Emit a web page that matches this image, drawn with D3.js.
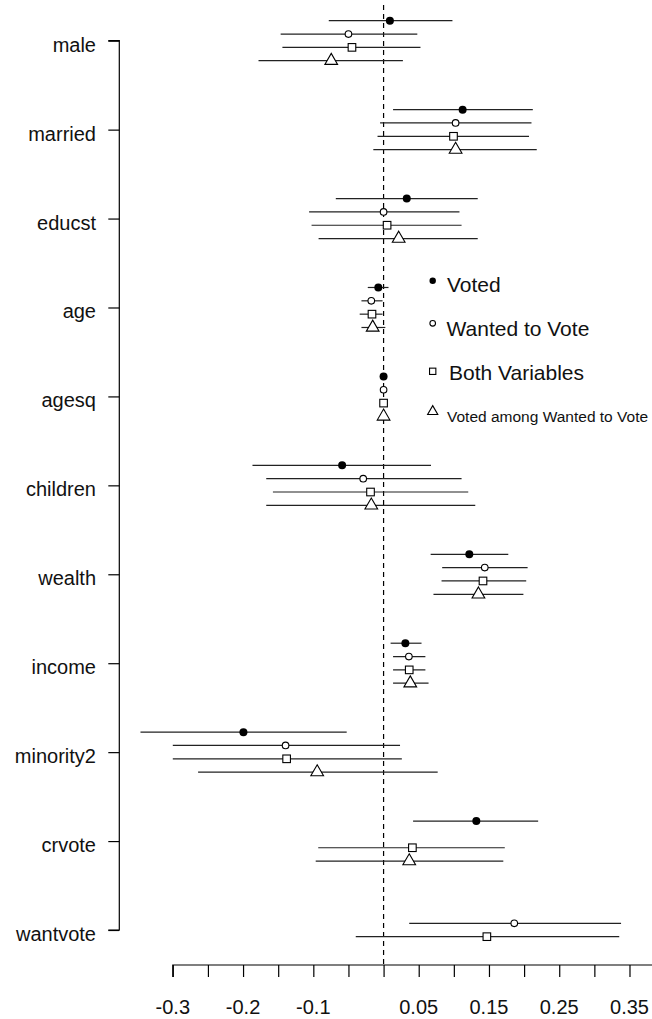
<!DOCTYPE html>
<html>
<head>
<meta charset="utf-8">
<script src="https://cdn.jsdelivr.net/npm/d3@7"></script>
<style>
  html, body { margin: 0; padding: 0; background: #fff; }
  svg { display: block; font-family: "Liberation Sans", Arial, sans-serif; }
</style>
</head>
<body>
<div id="chart"></div>
<script>
// ---- Data ----
const categories = ["male", "married", "educst", "age", "agesq", "children", "wealth", "income", "minority2", "crvote", "wantvote"];

const votedEst = [0.009, 0.1125, 0.033, -0.0075, 0.0, -0.059, 0.122, 0.031, -0.1995, 0.132, null];
const votedLo  = [-0.078, 0.0135, -0.068, -0.0225, -0.0005, -0.1866, 0.067, 0.010, -0.346, 0.042, null];
const votedHi  = [0.098, 0.2124, 0.134, 0.007, 0.0005, 0.0675, 0.1775, 0.054, -0.0525, 0.220, null];

const wantedEst = [-0.050, 0.1025, 0.0, -0.0175, 0.0, -0.029, 0.144, 0.036, -0.1395, null, 0.186];
const wantedLo  = [-0.1465, -0.005, -0.106, -0.0315, -0.0005, -0.167, 0.0834, 0.0135, -0.300, null, 0.0365];
const wantedHi  = [0.048, 0.2105, 0.108, -0.0015, 0.0005, 0.111, 0.205, 0.0595, 0.0234, null, 0.338];

const bothEst = [-0.045, 0.0995, 0.005, -0.0165, 0.0, -0.0186, 0.1415, 0.0365, -0.138, 0.041, 0.147];
const bothLo  = [-0.144, -0.0086, -0.1025, -0.034, -0.0005, -0.1575, 0.0825, 0.0135, -0.300, -0.093, -0.0396];
const bothHi  = [0.0525, 0.207, 0.111, -0.0015, 0.0005, 0.1205, 0.203, 0.0595, 0.026, 0.1725, 0.3354];

const amongEst = [-0.0745, 0.1025, 0.0215, -0.0155, 0.0, -0.0175, 0.135, 0.038, -0.0945, 0.0365, null];
const amongLo  = [-0.178, -0.0146, -0.0925, -0.0315, -0.0005, -0.167, 0.071, 0.0135, -0.264, -0.0966, null];
const amongHi  = [0.0275, 0.218, 0.134, 0.0025, 0.0005, 0.1305, 0.199, 0.064, 0.077, 0.1704, null];

const seriesNames = ["Voted", "Wanted to Vote", "Both Variables", "Voted among Wanted to Vote"];
const xTickValues = [-0.3, -0.25, -0.2, -0.15, -0.1, -0.05, 0, 0.05, 0.1, 0.15, 0.2, 0.25, 0.3, 0.35, 0.4];
const xTickLabels = ["-0.3", "", "-0.2", "", "-0.1", "", "", "0.05", "", "0.15", "", "0.25", "", "0.35", ""];

// ---- Layout ----
const W = 652, H = 1019;
const svg = d3.select("#chart").append("svg").attr("width", W).attr("height", H);

const x = d3.scaleLinear().domain([-0.3, 0.4]).range([172.8, 172.8 + 0.7 * 702.6]);
const y = d3.scalePoint().domain(categories).range([40.7, 930]);
const offsets = [-20, -6.67, 6.67, 20];

const series = [
  { name: seriesNames[0], est: votedEst, lo: votedLo, hi: votedHi, shape: "dot" },
  { name: seriesNames[1], est: wantedEst, lo: wantedLo, hi: wantedHi, shape: "circle" },
  { name: seriesNames[2], est: bothEst, lo: bothLo, hi: bothHi, shape: "square" },
  { name: seriesNames[3], est: amongEst, lo: amongLo, hi: amongHi, shape: "triangle" }
];

// dashed zero line
svg.append("line")
  .attr("x1", x(0)).attr("x2", x(0))
  .attr("y1", 5).attr("y2", 965)
  .attr("stroke", "#000").attr("stroke-width", 1.2)
  .attr("stroke-dasharray", "5,4");

// Y axis
const yAxis = d3.axisLeft(y).tickSize(11).tickPadding(0).tickFormat("");
const gy = svg.append("g").attr("transform", "translate(119.3,0)").call(yAxis);
gy.select(".domain").attr("d", `M-11,${y(categories[0])}H0V${y(categories[categories.length-1])}H-11`).attr("stroke", "#000").attr("stroke-width", 1.2);
gy.selectAll(".tick line").attr("stroke", "#000").attr("stroke-width", 1.2);

svg.append("g").selectAll("text").data(categories).join("text")
  .attr("x", 96).attr("y", d => y(d) + 11)
  .attr("text-anchor", "end")
  .attr("font-size", 20)
  .attr("fill", "#111")
  .text(d => d);

// X axis
const xAxis = d3.axisBottom(x).tickValues(xTickValues).tickSize(12).tickPadding(0).tickFormat("");
const gx = svg.append("g").attr("transform", "translate(0,965)").call(xAxis);
gx.select(".domain").attr("d", `M${x(-0.3)},12V0H${x(0.4)}`).attr("stroke", "#000").attr("stroke-width", 1.2);
gx.selectAll(".tick line").attr("stroke", "#000").attr("stroke-width", 1.2);

svg.append("g").selectAll("text").data(xTickValues.map((v, i) => ({ v, l: xTickLabels[i] })).filter(d => d.l !== ""))
  .join("text")
  .attr("x", d => x(d.v)).attr("y", 1014)
  .attr("text-anchor", "middle")
  .attr("font-size", 20)
  .attr("fill", "#111")
  .text(d => d.l);

// Marks
function drawMarker(g, shape, cx, cy, scale) {
  scale = scale || 1;
  if (shape === "dot") {
    g.append("circle").attr("cx", cx).attr("cy", cy).attr("r", 4 * scale).attr("fill", "#000");
  } else if (shape === "circle") {
    g.append("circle").attr("cx", cx).attr("cy", cy).attr("r", 3.3 * scale)
      .attr("fill", "#fff").attr("stroke", "#000").attr("stroke-width", 1.1);
  } else if (shape === "square") {
    const s = 7.6 * scale;
    g.append("rect").attr("x", cx - s / 2).attr("y", cy - s / 2).attr("width", s).attr("height", s)
      .attr("fill", "#fff").attr("stroke", "#000").attr("stroke-width", 1.1);
  } else if (shape === "triangle") {
    g.append("path").attr("d", d3.symbol(d3.symbolTriangle, 70 * scale * scale)())
      .attr("transform", `translate(${cx},${cy})`)
      .attr("fill", "#fff").attr("stroke", "#000").attr("stroke-width", 1.1);
  }
}

const marks = svg.append("g");
series.forEach((s, si) => {
  categories.forEach((c, ci) => {
    if (s.est[ci] === null) return;
    const yy = y(c) + offsets[si];
    marks.append("line")
      .attr("x1", x(s.lo[ci])).attr("x2", x(s.hi[ci]))
      .attr("y1", yy).attr("y2", yy)
      .attr("stroke", "#222").attr("stroke-width", 1.2);
  });
});
series.forEach((s, si) => {
  categories.forEach((c, ci) => {
    if (s.est[ci] === null) return;
    drawMarker(marks, s.shape, x(s.est[ci]), y(c) + offsets[si]);
  });
});

// Legend
const legend = svg.append("g");
const legendRows = [
  { sy: 280.7, ty: 291.7, tx: 447, fs: 21, sc: 0.8 },
  { sy: 323.3, ty: 335.7, tx: 446.5, fs: 21, sc: 0.85 },
  { sy: 371.3, ty: 380, tx: 449, fs: 21, sc: 0.83 },
  { sy: 411.5, ty: 421.7, tx: 447, fs: 15.5, sc: 0.8 }
];
series.forEach((s, i) => {
  const r = legendRows[i];
  drawMarker(legend, s.shape, 432.7, r.sy, r.sc);
  legend.append("text").attr("x", r.tx).attr("y", r.ty)
    .attr("font-size", r.fs).attr("fill", "#111").text(s.name);
});
</script>
</body>
</html>
